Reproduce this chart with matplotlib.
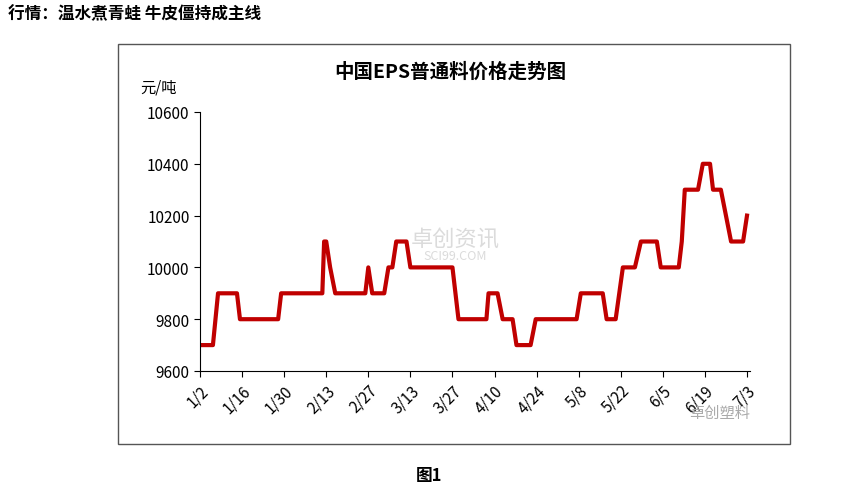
import matplotlib
matplotlib.use("Agg")
import matplotlib.pyplot as plt
from matplotlib.patches import Rectangle

plt.rcParams['font.family'] = ['Noto Sans CJK SC', 'DejaVu Sans']

tick_labels = ["1/2","1/16","1/30","2/13","2/27","3/13","3/27","4/10","4/24","5/8","5/22","6/5","6/19","7/3"]
days = [0,4.3,6,12.3,13.3,26,27,40.7,41.3,42,43.3,45,55,56,57.3,61.3,62.7,64,65.3,68.7,70,84,86,95.3,96,99,100.7,104,105.3,110,111.7,125.3,
        126.7,134,135.3,138.3,140.7,144.7,146.7,152,153.3,159.3,160.3,161.3,165.7,167.3,169.7,170.7,173.3,175,176.7,180.7,182]
prices = [9700,9700,9900,9900,9800,9800,9900,9900,10100,10100,10000,9900,9900,10000,9900,9900,10000,10000,10100,10100,10000,10000,9800,9800,9900,9900,9800,9800,9700,9700,9800,9800,
          9900,9900,9800,9800,10000,10000,10100,10100,10000,10000,10100,10300,10300,10400,10400,10300,10300,10200,10100,10100,10200]

fig = plt.figure(figsize=(8.58,4.89), dpi=100)
fig.patches.append(Rectangle((118/858, 1-445/489), 672/858, 400/489, transform=fig.transFigure,
                             fill=False, edgecolor='#555555', lw=1))
fig.text(8/858, 1-14/489, "行情：温水煮青蛙 牛皮僵持成主线", fontsize=12, fontweight='bold', va='center')
fig.text(0.5, 1-476/489, "图1", fontsize=12, fontweight='bold', ha='center', va='center')
fig.text(450/858, 1-72/489, "中国EPS普通料价格走势图", fontsize=14, fontweight='bold', ha='center', va='center')
fig.text(140/858, 1-88/489, "元/吨", fontsize=11, va='center')
fig.text(455/858, 1-240/489, "卓创资讯", fontsize=16, color='#cccccc', ha='center', va='center', alpha=0.7)
fig.text(455/858, 1-257/489, "SCI99.COM", fontsize=9, color='#cccccc', ha='center', va='center', alpha=0.7)
fig.text(720/858, 1-413/489, "卓创塑料", fontsize=11, color='#aaaaaa', ha='center', va='center')

ax = fig.add_axes([200/858, 1-372/489, 550/858, 259/489])
ax.plot(days, prices, color='#c00000', lw=3)
ax.set_ylim(9600, 10600)
ax.set_yticks(range(9600, 10601, 200))
ax.set_xlim(0, 183)
ax.set_xticks([i*14 for i in range(len(tick_labels))])
ax.set_xticklabels(tick_labels, rotation=45, ha='right', rotation_mode='anchor')
ax.tick_params(labelsize=11, direction='out', length=4)
for s in ['top', 'right']:
    ax.spines[s].set_visible(False)
fig.savefig("out.png", dpi=100)
